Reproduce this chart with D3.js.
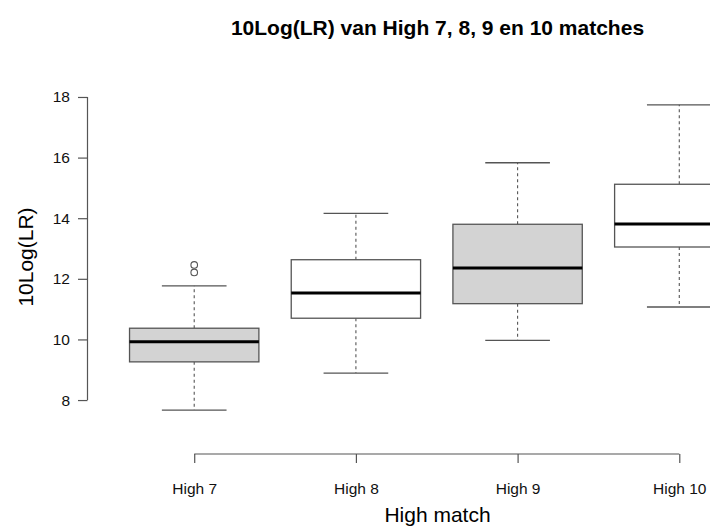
<!DOCTYPE html>
<html>
<head>
<meta charset="utf-8">
<script src="https://cdn.jsdelivr.net/npm/d3@7"></script>
<style>
  body { margin: 0; background: #fff; }
  text { font-family: "Liberation Sans", Arial, Helvetica, sans-serif; }
</style>
</head>
<body>
<svg id="chart" width="710" height="527"></svg>
<script>
// groups and their five-number summaries
const categories = ["High 7", "High 8", "High 9", "High 10"];
const whiskerLow  = [7.67, 8.89, 9.97, 11.07];
const boxLow      = [9.26, 10.70, 11.18, 13.05];
const medians     = [9.92, 11.53, 12.36, 13.81];
const boxHigh     = [10.37, 12.63, 13.80, 15.12];
const whiskerHigh = [11.77, 14.16, 15.83, 17.74];
const outliers    = [[12.46, 12.21], [], [], []];
const fills       = ["#d3d3d3", "#ffffff", "#d3d3d3", "#ffffff"];
const yTicks      = [8, 10, 12, 14, 16, 18];

const svg = d3.select("#chart");

// R style plot region: x runs 0.34 .. 4.66, the right part is cut off
const x = d3.scaleLinear().domain([0.34, 4.66]).range([87.5, 786]);
const y = d3.scaleLinear().domain([6.22, 19.22]).range([454, 60]);

const unit = x(2) - x(1);
const boxW = unit * 0.8;
const capW = boxW / 2;

const data = categories.map((c, i) => ({
  name: c, pos: i + 1,
  lo: whiskerLow[i], q1: boxLow[i], med: medians[i], q3: boxHigh[i], hi: whiskerHigh[i],
  out: outliers[i], fill: fills[i]
}));

const boxes = svg.append("g").selectAll("g")
  .data(data)
  .enter().append("g");

// whiskers (dashed)
boxes.append("line")
  .attr("x1", d => x(d.pos)).attr("x2", d => x(d.pos))
  .attr("y1", d => y(d.q3)).attr("y2", d => y(d.hi))
  .attr("stroke", "#555").attr("stroke-width", 1.1).attr("stroke-dasharray", "3,3");
boxes.append("line")
  .attr("x1", d => x(d.pos)).attr("x2", d => x(d.pos))
  .attr("y1", d => y(d.q1)).attr("y2", d => y(d.lo))
  .attr("stroke", "#555").attr("stroke-width", 1.1).attr("stroke-dasharray", "3,3");

// staples
["hi", "lo"].forEach(k => {
  boxes.append("line")
    .attr("x1", d => x(d.pos) - capW / 2).attr("x2", d => x(d.pos) + capW / 2)
    .attr("y1", d => y(d[k])).attr("y2", d => y(d[k]))
    .attr("stroke", "#555").attr("stroke-width", 1.3);
});

// boxes
boxes.append("rect")
  .attr("x", d => x(d.pos) - boxW / 2)
  .attr("width", boxW)
  .attr("y", d => y(d.q3))
  .attr("height", d => y(d.q1) - y(d.q3))
  .attr("fill", d => d.fill)
  .attr("stroke", "#555").attr("stroke-width", 1.3);

// medians
boxes.append("line")
  .attr("x1", d => x(d.pos) - boxW / 2).attr("x2", d => x(d.pos) + boxW / 2)
  .attr("y1", d => y(d.med)).attr("y2", d => y(d.med))
  .attr("stroke", "#000").attr("stroke-width", 3);

// outliers
boxes.selectAll("circle")
  .data(d => d.out.map(v => ({pos: d.pos, v})))
  .enter().append("circle")
  .attr("cx", d => x(d.pos)).attr("cy", d => y(d.v))
  .attr("r", 3.3)
  .attr("fill", "none").attr("stroke", "#555").attr("stroke-width", 1.1);

// y axis
const yAxis = svg.append("g")
  .attr("transform", `translate(${x.range()[0]},0)`)
  .call(d3.axisLeft(y).tickValues(yTicks).tickSize(9.5).tickPadding(8).tickSizeOuter(0));
yAxis.select(".domain").attr("d", `M0,${y(8)}V${y(18)}`);

// x axis
const xAxis = svg.append("g")
  .attr("transform", `translate(0,${y.range()[0]})`)
  .call(d3.axisBottom(x).tickValues([1, 2, 3, 4])
    .tickFormat(d => categories[d - 1]).tickSize(9).tickPadding(20).tickSizeOuter(0));
xAxis.select(".domain").attr("d", `M${x(1)},0H${x(4)}`);

svg.selectAll(".tick line, .domain").attr("stroke", "#555").attr("stroke-width", 1.2);
svg.selectAll(".tick text").attr("font-size", 15.5).attr("fill", "#111")
  .attr("font-family", "'Liberation Sans', Arial, sans-serif");

// titles
svg.append("text")
  .attr("x", 437.5).attr("y", 35)
  .attr("text-anchor", "middle")
  .attr("font-size", 21).attr("font-weight", "bold")
  .text("10Log(LR) van High 7, 8, 9 en 10 matches");

svg.append("text")
  .attr("x", 437.5).attr("y", 522)
  .attr("text-anchor", "middle")
  .attr("font-size", 21)
  .text("High match");

svg.append("text")
  .attr("transform", `translate(33,257) rotate(-90)`)
  .attr("text-anchor", "middle")
  .attr("font-size", 21)
  .text("10Log(LR)");
</script>
</body>
</html>
